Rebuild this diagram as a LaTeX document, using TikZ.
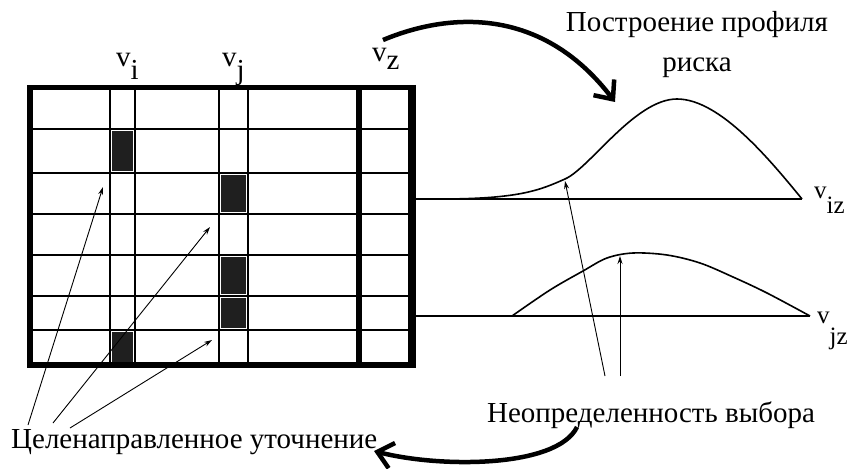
\documentclass[tikz,border=0pt]{standalone}
\usepackage{fontspec}
\setmainfont{Liberation Serif}
\usetikzlibrary{arrows.meta}
\begin{document}
\begin{tikzpicture}[x=1pt,y=-1pt,
  lbl/.style={font=\fontsize{29}{31}\selectfont, inner sep=0pt},
  slbl/.style={font=\fontsize{25}{27}\selectfont, inner sep=0pt},
  gridline/.style={line width=2.2pt},
  cell/.style={fill=black!88},
  curveline/.style={line width=1.6pt},
  thickarrow/.style={line width=4.5pt, -{Straight Barb[length=15pt,width=26pt,line width=4.5pt]}},
  thinarrow/.style={line width=0.9pt, -{Stealth[length=8pt,width=5pt]}}]
\useasboundingbox (0,0) rectangle (853,468);

% grid
\foreach \y in {129,173,214,255,296,330} \draw[gridline] (30,\y) -- (412,\y);
\foreach \x in {110,135,219,248} \draw[gridline] (\x,87) -- (\x,365);
\fill[cell] (112,131) rectangle (133,171);
\fill[cell] (112,332) rectangle (133,363);
\fill[cell] (221,175) rectangle (246,212);
\fill[cell] (221,257) rectangle (246,294);
\fill[cell] (221,298) rectangle (246,328);
\draw[line width=6pt] (359,87) -- (359,365);
\draw[line width=5.5pt] (30,87.5) rectangle (412,365);
\draw[line width=8pt] (412,85) -- (412,367.5);

% column labels
\node[lbl, anchor=base west] (vi) at (116,67) {v\raisebox{-13pt}{i}};
\node[lbl, anchor=base west] (vj) at (222,67) {v\raisebox{-13pt}{j}};
\node[lbl, anchor=base west] (vz) at (372,62) {v\raisebox{-8pt}{z}};

% profiles
\coordinate (b1s) at (416,199);
\coordinate (b1e) at (802,199);
\draw[curveline] (b1s) -- (b1e);
\draw[curveline] (440,199) .. controls (520,199) and (540,190) .. (565,179)
  .. controls (590,168) and (635,99) .. (677,99)
  .. controls (720,99) and (770,160) .. (b1e);
\node[slbl, anchor=base west] (viz) at (814,198) {v\raisebox{-15pt}{iz}};

\coordinate (b2s) at (416,316);
\coordinate (b2e) at (810,316);
\draw[curveline] (b2s) -- (b2e);
\draw[curveline] plot[smooth, tension=0.55] coordinates {(512,316) (550,290) (583,271) (607,258) (633,253) (667,255) (700,263) (733,277) (767,293) (810,316)};
\node[slbl, anchor=base west] (vjz) at (817,323) {v\raisebox{-21pt}{jz}};

% texts
\node[lbl, anchor=base] (t1) at (697,32) {Построение профиля};
\node[lbl, anchor=base] (t2) at (697,72) {риска};
\node[lbl, anchor=base] (unc) at (651,422) {Неопределенность выбора};
\node[lbl, anchor=base west] (tgt) at (11,448) {Целенаправленное уточнение};

% thick arrows
\coordinate (a1s) at (383,40);
\coordinate (a1e) at (615,102);
\draw[thickarrow] (a1s) .. controls (455,10) and (545,10) .. (a1e);
\coordinate (a2s) at (577,427);
\coordinate (a2e) at (374,451);
\draw[thickarrow] (a2s) .. controls (557,468) and (440,468) .. (a2e);

% thin arrows from "Неопределенность выбора"
\coordinate (u1) at (605,376);
\coordinate (u2) at (620,376);
\coordinate (p1) at (565,181);
\coordinate (p2) at (620,256);
\draw[thinarrow] (u1) -- (p1);
\draw[thinarrow] (u2) -- (p2);

% thin arrows from "Целенаправленное уточнение"
\coordinate (g1) at (28,425);
\coordinate (g2) at (53,423);
\coordinate (g3) at (70,428);
\coordinate (c1) at (103,187);
\coordinate (c2) at (210,227);
\coordinate (c3) at (212,340);
\draw[thinarrow] (g1) -- (c1);
\draw[thinarrow] (g2) -- (c2);
\draw[thinarrow] (g3) -- (c3);
\end{tikzpicture}
\end{document}
